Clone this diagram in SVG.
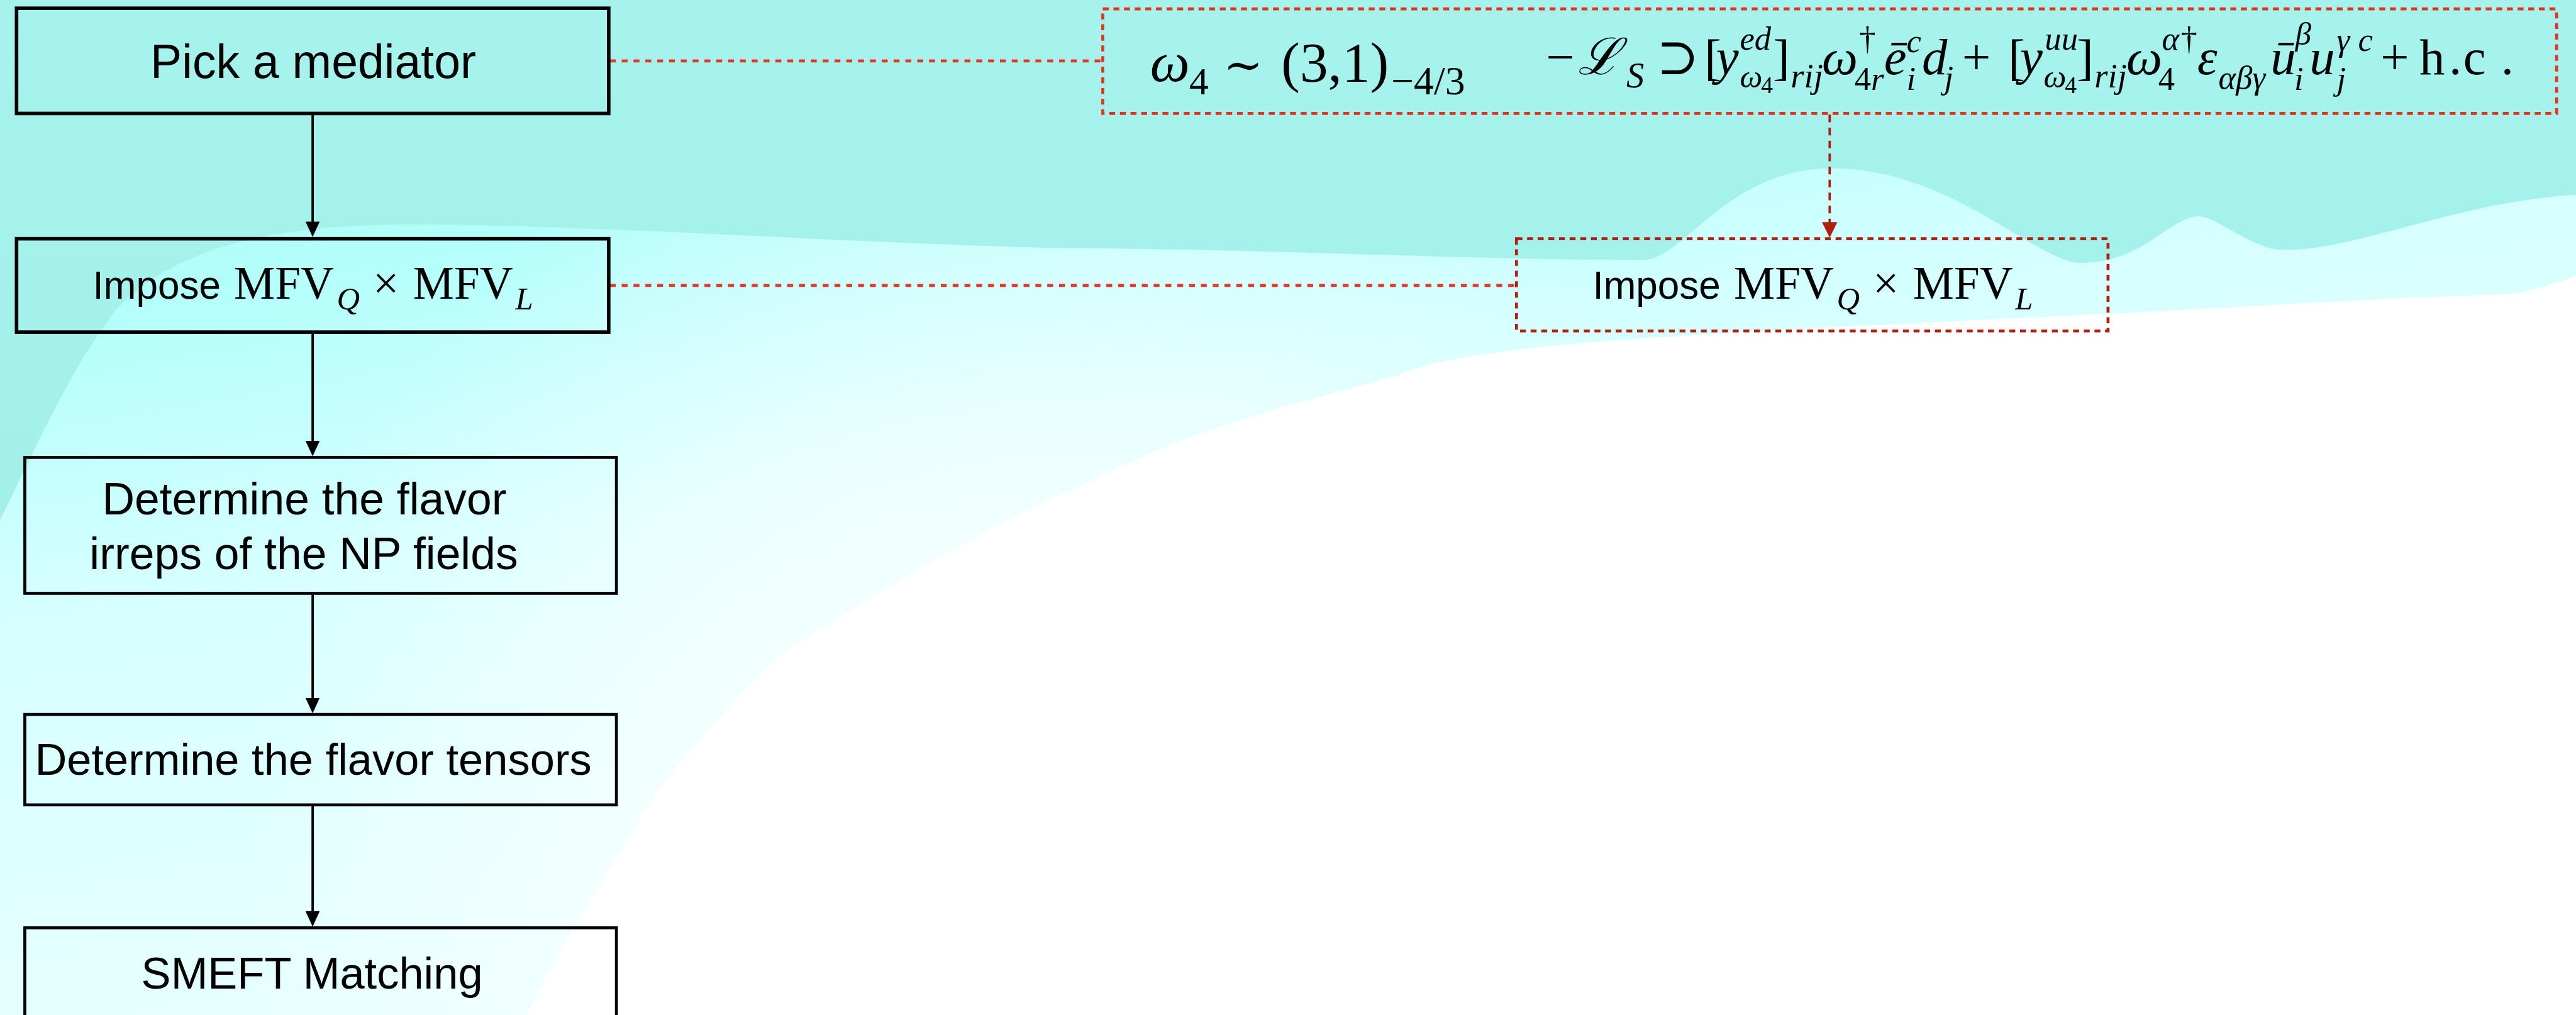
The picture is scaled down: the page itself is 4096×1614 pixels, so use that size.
<svg xmlns="http://www.w3.org/2000/svg" width="4096" height="1614" viewBox="0 0 4096 1614">
<defs>
<style>
.sans{font-family:"Liberation Sans",Arial,Helvetica,sans-serif;fill:#000}
.serif{font-family:"Liberation Serif","DejaVu Serif","Times New Roman",serif;fill:#000}
.it{font-style:italic}
.box{fill:none;stroke:#000}
.dbox{fill:none;stroke-width:5;stroke-dasharray:10 8}
.arrow{stroke:#000;stroke-width:4;fill:none;marker-end:url(#ab)}
.dot{stroke:#ee3322;stroke-width:5;stroke-dasharray:10 10;fill:none}
</style>
<marker id="ab" markerUnits="userSpaceOnUse" markerWidth="28" markerHeight="24" refX="14" refY="12" orient="auto">
<path d="M0,0 L26,12 L0,24 z" fill="#000"/>
</marker>
<marker id="ar" markerUnits="userSpaceOnUse" markerWidth="28" markerHeight="26" refX="12" refY="13" orient="auto">
<path d="M0,0 L26,13 L0,26 z" fill="#b21d0c"/>
</marker>
<linearGradient id="gCyan" gradientUnits="userSpaceOnUse" x1="0" y1="0" x2="300" y2="1718">
<stop offset="0" stop-color="#a6f4ed"/>
<stop offset="0.3" stop-color="#b2fefb"/>
<stop offset="0.6" stop-color="#d6ffff"/>
<stop offset="1" stop-color="#e6ffff"/>
</linearGradient>
<radialGradient id="gFade" gradientUnits="userSpaceOnUse" cx="1750" cy="1450" r="1350">
<stop offset="0" stop-color="#ffffff" stop-opacity="0.95"/>
<stop offset="0.5" stop-color="#ffffff" stop-opacity="0.55"/>
<stop offset="1" stop-color="#ffffff" stop-opacity="0"/>
</radialGradient>
<linearGradient id="gTop" gradientUnits="userSpaceOnUse" x1="0" y1="0" x2="0" y2="880">
<stop offset="0" stop-color="#a5f3ec"/>
<stop offset="1" stop-color="#a2f0e9"/>
</linearGradient>
</defs>
<g transform="scale(0.9397)">
<g id="background">
<rect x="0" y="0" width="4359" height="1718" fill="#ffffff"/>
<path id="cyanArea" d="M0,0 H4359 V466 C4300,490 4250,498 4240,498 C4000,505 3800,520 3558,531 C3300,545 3000,555 2669,581 C2520,595 2420,610 2363,636 C2200,680 2050,720 1946,767 C1800,833 1700,880 1612,931 C1500,990 1400,1060 1334,1096 C1250,1170 1150,1290 1112,1337 C1060,1420 990,1540 945,1611 C920,1660 900,1700 890,1718 H0 Z" fill="url(#gCyan)"/>
<path d="M0,0 H4359 V466 C4300,490 4250,498 4240,498 C4000,505 3800,520 3558,531 C3300,545 3000,555 2669,581 C2520,595 2420,610 2363,636 C2200,680 2050,720 1946,767 C1800,833 1700,880 1612,931 C1500,990 1400,1060 1334,1096 C1250,1170 1150,1290 1112,1337 C1060,1420 990,1540 945,1611 C920,1660 900,1700 890,1718 H0 Z" fill="url(#gFade)"/>
<path id="topBand" d="M0,0 H4359 V330 C4150,340 3950,440 3840,420 C3780,400 3740,360 3711,367 C3660,380 3620,445 3520,445 C3440,440 3300,285 3100,285 C2920,285 2850,440 2780,440 C2500,440 2100,420 1800,420 C1400,410 1000,380 700,380 C450,380 300,420 200,520 C120,620 60,760 0,880 Z" fill="url(#gTop)"/>
</g>
<g id="connectors">
<line class="arrow" x1="529" y1="192" x2="529" y2="389"/>
<line class="arrow" x1="529" y1="562" x2="529" y2="760"/>
<line class="arrow" x1="529" y1="1004" x2="529" y2="1195"/>
<line class="arrow" x1="529" y1="1362" x2="529" y2="1556"/>
<line class="dot" x1="1032" y1="103" x2="1864" y2="103"/>
<line class="dot" x1="1032" y1="483" x2="2564" y2="483"/>
<line x1="3096" y1="194" x2="3096" y2="388" stroke="#b21d0c" stroke-width="4" stroke-dasharray="13 9" marker-end="url(#ar)"/>
</g>
<g id="n1">
<rect class="box" x="28" y="14" width="1002" height="178" stroke-width="6"/>
<text class="sans" x="530" y="132" font-size="80" text-anchor="middle">Pick a mediator</text>
</g>
<g id="n2">
<rect class="box" x="28" y="404" width="1002" height="158" stroke-width="6"/>
<text y="506"><tspan class="sans" x="157" font-size="66">Impose</tspan><tspan class="serif" x="396" font-size="78">MFV</tspan><tspan class="serif it" x="570" y="524" font-size="54">Q</tspan><tspan class="serif" x="631" y="506" font-size="78">×</tspan><tspan class="serif" x="699" font-size="78">MFV</tspan><tspan class="serif it" x="872" y="524" font-size="54">L</tspan></text>
</g>
<g id="n3">
<rect class="box" x="42" y="774" width="1001" height="230" stroke-width="5"/>
<text class="sans" font-size="76" text-anchor="middle"><tspan x="515" y="870">Determine the flavor</tspan><tspan x="514" y="963">irreps of the NP fields</tspan></text>
</g>
<g id="n4">
<rect class="box" x="42" y="1209" width="1001" height="153" stroke-width="5"/>
<text class="sans" x="530" y="1311" font-size="75" text-anchor="middle">Determine the flavor tensors</text>
</g>
<g id="n5">
<rect class="box" x="42" y="1570" width="1001" height="220" stroke-width="5"/>
<text class="sans" x="528" y="1673" font-size="75" text-anchor="middle">SMEFT Matching</text>
</g>
<g id="eq">
<rect class="dbox" x="1866" y="15" width="2460" height="177" stroke="#e8301c"/>
<text class="serif" font-size="95"><tspan class="it" x="1946" y="137">ω</tspan><tspan x="2012" y="160" font-size="66">4</tspan><tspan x="2070" y="137" font-size="80">∼</tspan><tspan x="2168" y="137">(3,1)</tspan><tspan x="2354" y="160" font-size="68">−4/3</tspan></text>
<text class="serif" font-size="86"><tspan x="2616" y="126">−</tspan><tspan class="it" x="2670" y="126">ℒ</tspan><tspan class="it" x="2752" y="148" font-size="60">S</tspan><tspan x="2803" y="126">⊃</tspan><tspan x="2884" y="126">[</tspan><tspan class="it" x="2904" y="126">y</tspan><tspan class="it" x="2944" y="84" font-size="56">ed</tspan><tspan class="it" x="2944" y="148" font-size="54">ω</tspan><tspan x="2980" y="158" font-size="40">4</tspan><tspan x="3000" y="126">]</tspan><tspan class="it" x="3030" y="148" font-size="58">rij</tspan><tspan class="it" x="3083" y="126">ω</tspan><tspan x="3146" y="84" font-size="56">†</tspan><tspan x="3138" y="152" font-size="56">4</tspan><tspan class="it" x="3166" y="152" font-size="56">r</tspan><tspan class="it" x="3188" y="126">ē</tspan><tspan class="it" x="3226" y="88" font-size="56">c</tspan><tspan class="it" x="3226" y="152" font-size="56">i</tspan><tspan class="it" x="3252" y="126">d</tspan><tspan class="it" x="3290" y="150" font-size="56">j</tspan><tspan x="3320" y="126">+</tspan><tspan x="3398" y="126">[</tspan><tspan class="it" x="3418" y="126">y</tspan><tspan class="it" x="3460" y="84" font-size="56">uu</tspan><tspan class="it" x="3458" y="148" font-size="54">ω</tspan><tspan x="3494" y="158" font-size="40">4</tspan><tspan x="3514" y="126">]</tspan><tspan class="it" x="3544" y="148" font-size="58">rij</tspan><tspan class="it" x="3598" y="126">ω</tspan><tspan class="it" x="3658" y="84" font-size="56">α</tspan><tspan x="3690" y="84" font-size="56">†</tspan><tspan x="3652" y="152" font-size="56">4</tspan><tspan class="it" x="3718" y="126">ε</tspan><tspan class="it" x="3754" y="150" font-size="56">αβγ</tspan><tspan class="it" x="3842" y="126">ū</tspan><tspan class="it" x="3884" y="76" font-size="54">β</tspan><tspan class="it" x="3882" y="152" font-size="56">i</tspan><tspan class="it" x="3908" y="126">u</tspan><tspan class="it" x="3954" y="86" font-size="56">γ</tspan><tspan class="it" x="3990" y="86" font-size="56">c</tspan><tspan class="it" x="3954" y="152" font-size="56">j</tspan><tspan x="4028" y="126">+</tspan><tspan x="4094" y="126">h</tspan><tspan x="4144" y="126">.</tspan><tspan x="4168" y="126">c</tspan><tspan x="4232" y="126">.</tspan></text>
</g>
<g id="n2r">
<rect class="dbox" x="2566" y="404" width="1001" height="156" stroke="#b51d0c"/>
<text y="506"><tspan class="sans" x="2695" font-size="66">Impose</tspan><tspan class="serif" x="2934" font-size="78">MFV</tspan><tspan class="serif it" x="3108" y="524" font-size="54">Q</tspan><tspan class="serif" x="3169" y="506" font-size="78">×</tspan><tspan class="serif" x="3237" font-size="78">MFV</tspan><tspan class="serif it" x="3410" y="524" font-size="54">L</tspan></text>
</g>
</g>
</svg>
